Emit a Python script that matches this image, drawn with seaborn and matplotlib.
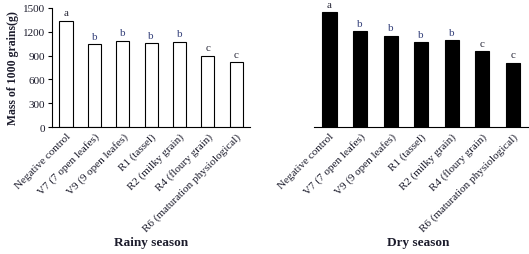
import pandas as pd
import matplotlib.pyplot as plt
import seaborn as sns

# Datos (masa de 1000 granos, g)
etapas = ['Negative control', 'V7 (7 open leafes)', 'V9 (9 open leafes)',
          'R1 (tassel)', 'R2 (milky grain)', 'R4 (floury grain)',
          'R6 (maturation physiological)']
masa_lluvia = [1336, 1042, 1088, 1055, 1075, 895, 815]
masa_seca = [1445, 1206, 1147, 1067, 1092, 954, 806]
letras_lluvia = ['a', 'b', 'b', 'b', 'b', 'c', 'c']
letras_seca = ['a', 'b', 'b', 'b', 'b', 'c', 'c']
yticks = [0, 300, 600, 900, 1200, 1500]

sns.set_style('white')
plt.rcParams['font.family'] = ['Liberation Serif', 'DejaVu Serif']

color_texto = '#1c1c2c'
color_letra = {'a': '#2a2a3a', 'b': '#34407a', 'c': '#2a2a3a'}

fig = plt.figure(figsize=(5.29, 2.55), dpi=100)
ax1 = fig.add_axes([0.098, 0.498, 0.375, 0.467])
ax2 = fig.add_axes([0.594, 0.498, 0.404, 0.467])


def dibujar(ax, valores, letras, relleno):
    df = pd.DataFrame({'Etapa': etapas, 'Masa': valores})
    sns.barplot(data=df, x='Etapa', y='Masa', color=relleno, edgecolor='black',
                linewidth=0.8, width=0.46, saturation=1, ax=ax)
    ax.set_ylim(0, 1500)
    ax.set_xlim(-0.5, len(etapas) - 0.5)
    ax.set_xlabel('')
    ax.set_ylabel('')
    for i, (v, l) in enumerate(zip(valores, letras)):
        ax.text(i, v + 45, l, ha='center', va='bottom', fontsize=8,
                color=color_letra[l], clip_on=False)
    # marcas entre categorias
    ax.set_xticks([i - 0.5 for i in range(len(etapas) + 1)], minor=True)
    ax.tick_params(axis='x', which='minor', direction='inout', length=5,
                   width=0.8, color='black')
    ax.set_xticks(range(len(etapas)))
    ax.set_xticklabels(etapas, rotation=45, ha='right', rotation_mode='anchor',
                       fontsize=8, color=color_texto)
    ax.tick_params(axis='x', which='major', length=0, pad=3)
    for s in ['top', 'right']:
        ax.spines[s].set_visible(False)
    ax.spines['bottom'].set_color('black')
    ax.spines['bottom'].set_linewidth(0.8)
    ax.grid(False)


dibujar(ax1, masa_lluvia, letras_lluvia, 'white')
dibujar(ax2, masa_seca, letras_seca, 'black')

ax1.set_yticks(yticks)
ax1.set_yticklabels([str(t) for t in yticks], fontsize=8, color=color_texto)
ax1.tick_params(axis='y', direction='out', length=3, width=0.8, color='black',
                left=True, pad=2)
ax1.spines['left'].set_color('black')
ax1.spines['left'].set_linewidth(0.8)
ax1.set_ylabel('Mass of 1000 grains(g)', fontsize=8.5, fontweight='bold',
               color=color_texto, labelpad=3)

ax2.spines['left'].set_visible(False)
ax2.set_yticks([])

fig.text(0.285, 0.047, 'Rainy season', ha='center', va='center',
         fontsize=9.5, fontweight='bold', color=color_texto)
fig.text(0.79, 0.047, 'Dry season', ha='center', va='center',
         fontsize=9.5, fontweight='bold', color=color_texto)

plt.savefig('out.png', dpi=100)
plt.close()
